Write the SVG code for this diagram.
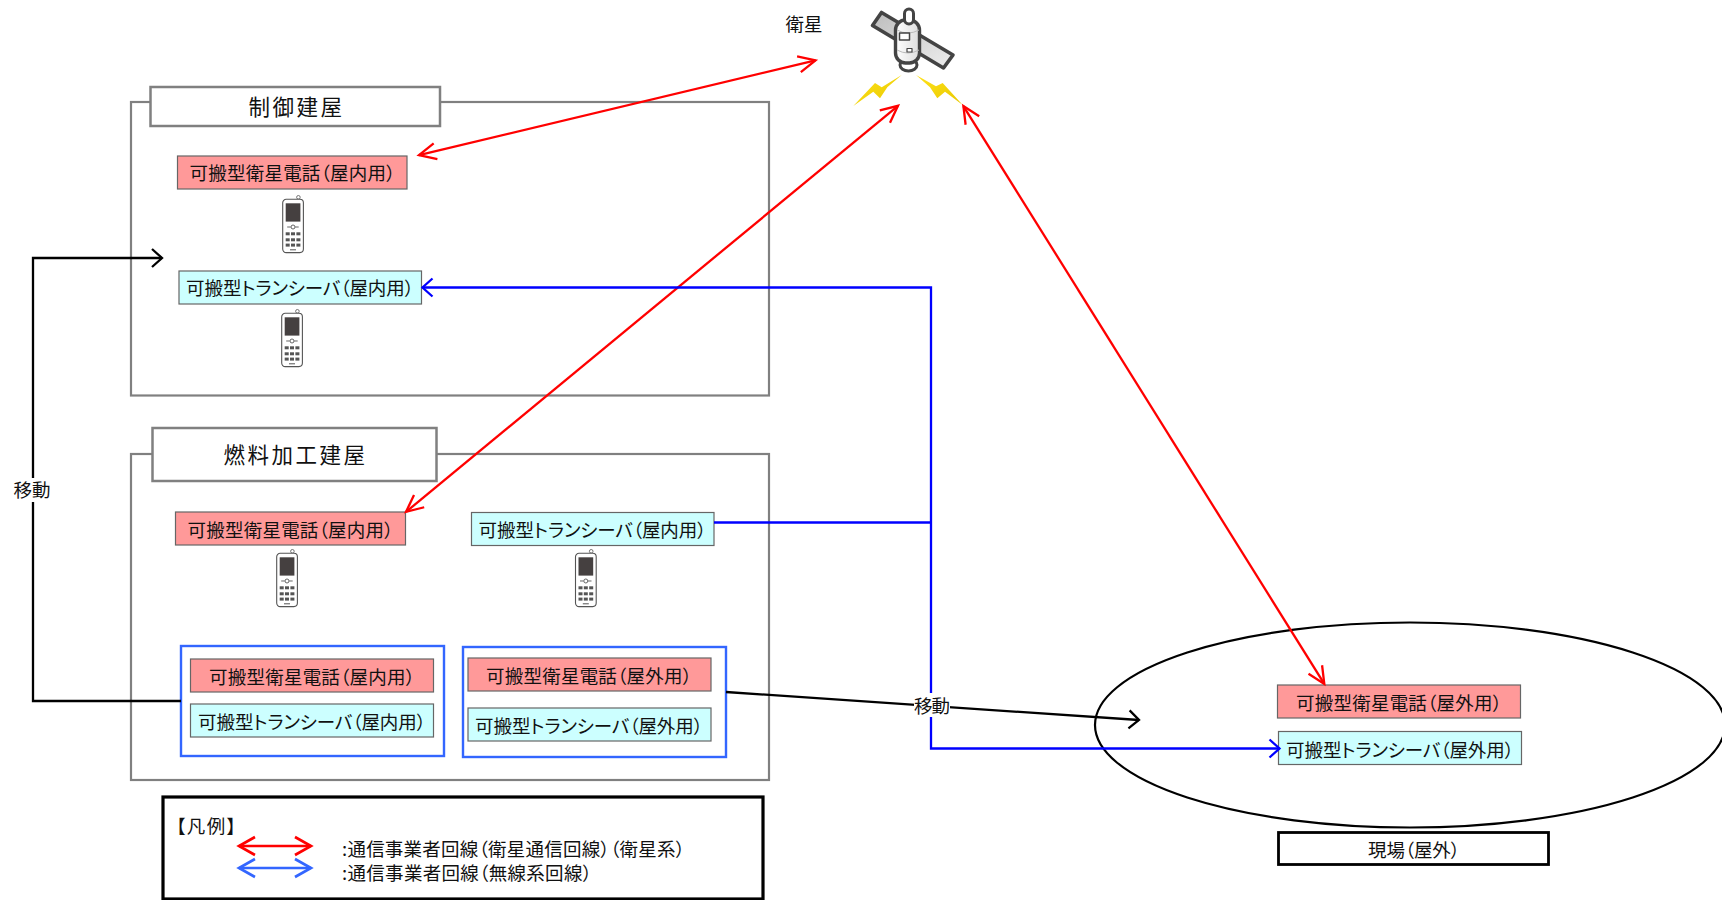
<svg xmlns="http://www.w3.org/2000/svg" width="1722" height="900" viewBox="0 0 1722 900">
<style>
text{font-family:"Noto Sans CJK JP","Noto Sans CJK SC",sans-serif;font-size:18.5px;fill:#111;font-feature-settings:"palt";text-anchor:middle;dominant-baseline:central}
.bld{fill:none;stroke:#808080;stroke-width:2.2}
.hdr{fill:#fff;stroke:#808080;stroke-width:2.5}
.hd{font-size:21.5px;letter-spacing:2.5px}
.sat{fill:#ff9999;stroke:#666;stroke-width:1.2}
.trx{fill:#ccffff;stroke:#666;stroke-width:1.2}
.kit{fill:#fff;stroke:#3366ff;stroke-width:2.4}
.l{text-anchor:start}
.r,.b,.k,.lr,.lb{fill:none;stroke-width:2.3}
.r{stroke:#f00;marker-start:url(#mr);marker-end:url(#mr)}
.b{stroke:#00f}
.k{stroke:#000}
.lr{stroke:#f00;stroke-width:2.7;marker-start:url(#mr2);marker-end:url(#mr2)}
.lb{stroke:#36f;stroke-width:2.7;marker-start:url(#mb2);marker-end:url(#mb2)}
</style>
<defs>
<marker id="mr" markerUnits="userSpaceOnUse" markerWidth="40" markerHeight="40" viewBox="-20 -20 40 40" refX="0" refY="0" orient="auto-start-reverse"><path d="M-17,-8 L0,0 L-17,8" fill="none" stroke="#f00" stroke-width="2.3"/></marker>
<marker id="mb" markerUnits="userSpaceOnUse" markerWidth="40" markerHeight="40" viewBox="-20 -20 40 40" refX="0" refY="0" orient="auto-start-reverse"><path d="M-10,-9 L0,0 L-10,9" fill="none" stroke="#00f" stroke-width="2.3"/></marker>
<marker id="mk" markerUnits="userSpaceOnUse" markerWidth="40" markerHeight="40" viewBox="-20 -20 40 40" refX="0" refY="0" orient="auto-start-reverse"><path d="M-10,-9 L0,0 L-10,9" fill="none" stroke="#000" stroke-width="2.3"/></marker>
<marker id="mr2" markerUnits="userSpaceOnUse" markerWidth="40" markerHeight="40" viewBox="-20 -20 40 40" refX="0" refY="0" orient="auto-start-reverse"><path d="M-16,-9 L0,0 L-16,9" fill="none" stroke="#f00" stroke-width="2.7"/></marker>
<marker id="mb2" markerUnits="userSpaceOnUse" markerWidth="40" markerHeight="40" viewBox="-20 -20 40 40" refX="0" refY="0" orient="auto-start-reverse"><path d="M-16,-9 L0,0 L-16,9" fill="none" stroke="#36f" stroke-width="2.7"/></marker>
<linearGradient id="pan" x1="0" y1="0" x2="1" y2="1"><stop offset="0" stop-color="#bdbdbd"/><stop offset="1" stop-color="#eee"/></linearGradient>
<linearGradient id="bodyg" x1="0" y1="0" x2="1" y2="0"><stop offset="0" stop-color="#fff"/><stop offset="1" stop-color="#ddd"/></linearGradient>
<linearGradient id="bolt" x1="0" y1="0" x2="1" y2="1"><stop offset="0" stop-color="#ffe21a"/><stop offset="1" stop-color="#e8c800"/></linearGradient>
<g id="phone">
<circle cx="15.7" cy="-2" r="1.8" fill="#fff" stroke="#555" stroke-width="0.8"/>
<rect x="0" y="0" width="20.7" height="53.3" rx="3.5" fill="#fff" stroke="#555" stroke-width="1.1"/>
<rect x="3" y="4" width="14.7" height="18.3" fill="#454040"/>
<circle cx="10.3" cy="27.7" r="2" fill="#fff" stroke="#555" stroke-width="0.9"/>
<path d="M4.5,27.7H8M12.5,27.7H16" stroke="#555" stroke-width="0.9"/>
<g fill="#555"><rect x="3" y="33" width="4" height="3"/><rect x="8.3" y="33" width="4" height="3"/><rect x="13.7" y="33" width="4" height="3"/><rect x="3" y="39" width="4" height="3"/><rect x="8.3" y="39" width="4" height="3"/><rect x="13.7" y="39" width="4" height="3"/><rect x="3" y="44.3" width="4" height="3"/><rect x="8.3" y="44.3" width="4" height="3"/><rect x="13.7" y="44.3" width="4" height="3"/><rect x="7.3" y="50" width="6" height="1"/></g>
</g>
</defs>
<rect width="1722" height="900" fill="#fff"/>

<g id="satellite">
<text x="804" y="23">衛星</text>
<g stroke="#444" stroke-linejoin="round">
<polygon points="881.5,12.5 872.5,25.5 943.5,68 953,55" fill="url(#pan)" stroke-width="3.6"/>
<ellipse cx="908.5" cy="65" rx="8.5" ry="6" fill="#fff" stroke-width="3"/>
<rect x="895.5" y="20" width="24" height="43" rx="10" fill="url(#bodyg)" stroke-width="3.4"/>
<rect x="904.5" y="9" width="9" height="15" rx="4.5" fill="#fff" stroke-width="3"/>
<path d="M897,30Q908,36 919,30M897,50Q908,56 919,50" fill="none" stroke="#bbb" stroke-width="1"/>
<rect x="899.5" y="33" width="10" height="7" fill="#fff" stroke-width="1.5"/>
<rect x="907" y="48.5" width="5" height="3.5" fill="#fff" stroke-width="1.2"/>
</g>
<polygon points="901.7,75 881.7,87.3 875,83 853.3,106 873.3,91.7 880,98.3 887.3,87.3" fill="url(#bolt)"/>
<polygon points="916,75 936,86.3 942.7,83 962.7,105 945,91.7 937.3,98.3 930,87.3" fill="url(#bolt)"/>
</g>

<g id="building-control">
<rect class="bld" x="131" y="102" width="638" height="293.5"/>
<rect class="hdr" x="150.5" y="87" width="289.5" height="39"/>
<text class="hd" x="296.5" y="105">制御建屋</text>
</g>
<g id="control-sat-phone">
<rect class="sat" x="177.5" y="156" width="229.5" height="33"/>
<text x="292.5" y="172" textLength="206">可搬型衛星電話（屋内用）</text>
<use href="#phone" x="282.7" y="199.3"/>
</g>
<g id="control-transceiver">
<rect class="trx" x="179" y="271" width="242.5" height="33"/>
<text x="300" y="287" textLength="228">可搬型トランシーバ（屋内用）</text>
<use href="#phone" x="281.7" y="313.3"/>
</g>

<g id="building-fuel">
<rect class="bld" x="131" y="454" width="638" height="326"/>
<rect class="hdr" x="152.5" y="428" width="284" height="53"/>
<text class="hd" x="295.5" y="453">燃料加工建屋</text>
</g>
<g id="fuel-sat-phone">
<rect class="sat" x="175.5" y="512" width="230" height="33"/>
<text x="290.5" y="529" textLength="206">可搬型衛星電話（屋内用）</text>
<use href="#phone" x="276.7" y="553.3"/>
</g>
<g id="fuel-transceiver">
<rect class="trx" x="471.5" y="512.5" width="242.5" height="33"/>
<text x="592.5" y="529" textLength="228">可搬型トランシーバ（屋内用）</text>
<use href="#phone" x="575.5" y="553.3"/>
</g>
<g id="kit-indoor">
<rect class="kit" x="181" y="646" width="263" height="110"/>
<rect class="sat" x="190.5" y="659" width="243" height="33"/>
<text x="312" y="676" textLength="206">可搬型衛星電話（屋内用）</text>
<rect class="trx" x="190.5" y="704" width="243" height="33"/>
<text x="312" y="721" textLength="228">可搬型トランシーバ（屋内用）</text>
</g>
<g id="kit-outdoor">
<rect class="kit" x="463" y="647" width="263" height="110"/>
<rect class="sat" x="468" y="658" width="243" height="33"/>
<text x="589" y="675" textLength="206">可搬型衛星電話（屋外用）</text>
<rect class="trx" x="468" y="708" width="243" height="33"/>
<text x="589" y="725" textLength="228">可搬型トランシーバ（屋外用）</text>
</g>

<g id="site">
<ellipse cx="1410" cy="725" rx="315" ry="102.5" fill="none" stroke="#000" stroke-width="2.2"/>
<rect x="1278.5" y="832.5" width="270" height="32" fill="#fff" stroke="#000" stroke-width="2.8"/>
<text x="1414" y="849" textLength="92">現場（屋外）</text>
</g>
<g id="site-sat-phone">
<rect class="sat" x="1277.5" y="685" width="243" height="33"/>
<text x="1399" y="702" textLength="206">可搬型衛星電話（屋外用）</text>
</g>
<g id="site-transceiver">
<rect class="trx" x="1278.5" y="731.5" width="243" height="33"/>
<text x="1400" y="749" textLength="228">可搬型トランシーバ（屋外用）</text>
</g>

<g id="legend">
<rect x="163" y="797" width="600" height="102" fill="#fff" stroke="#000" stroke-width="3.2"/>
<text class="l" x="176" y="825" textLength="60">【凡例】</text>
<line class="lr" x1="239" y1="846" x2="311" y2="846"/>
<line class="lb" x1="239" y1="868" x2="311" y2="868"/>
<text class="l" x="342" y="848" textLength="343">:通信事業者回線（衛星通信回線）（衛星系）</text>
<text class="l" x="342" y="872" textLength="250">:通信事業者回線（無線系回線）</text>
</g>

<g id="connectors">
<line class="r" x1="419" y1="155.2" x2="815.5" y2="60.3"/>
<line class="r" x1="406" y1="511.9" x2="898" y2="105.8"/>
<line class="r" x1="1324.3" y1="683.9" x2="963.4" y2="106.1"/>
<path class="b" d="M714,522.5H931"/>
<path class="b" d="M422.5,287.5H931V748.5H1279.5" marker-start="url(#mb)" marker-end="url(#mb)"/>
<path class="k" d="M181,701H33V258H162" marker-end="url(#mk)"/>
<path class="k" d="M726,692L1139,720" marker-end="url(#mk)"/>
<g id="move-labels">
<rect x="13" y="478" width="40" height="24" fill="#fff"/>
<text x="32" y="489" textLength="37">移動</text>
<rect x="914" y="693" width="36" height="24" fill="#fff"/>
<text x="932" y="705" textLength="36">移動</text>
</g>
</g>
</svg>
